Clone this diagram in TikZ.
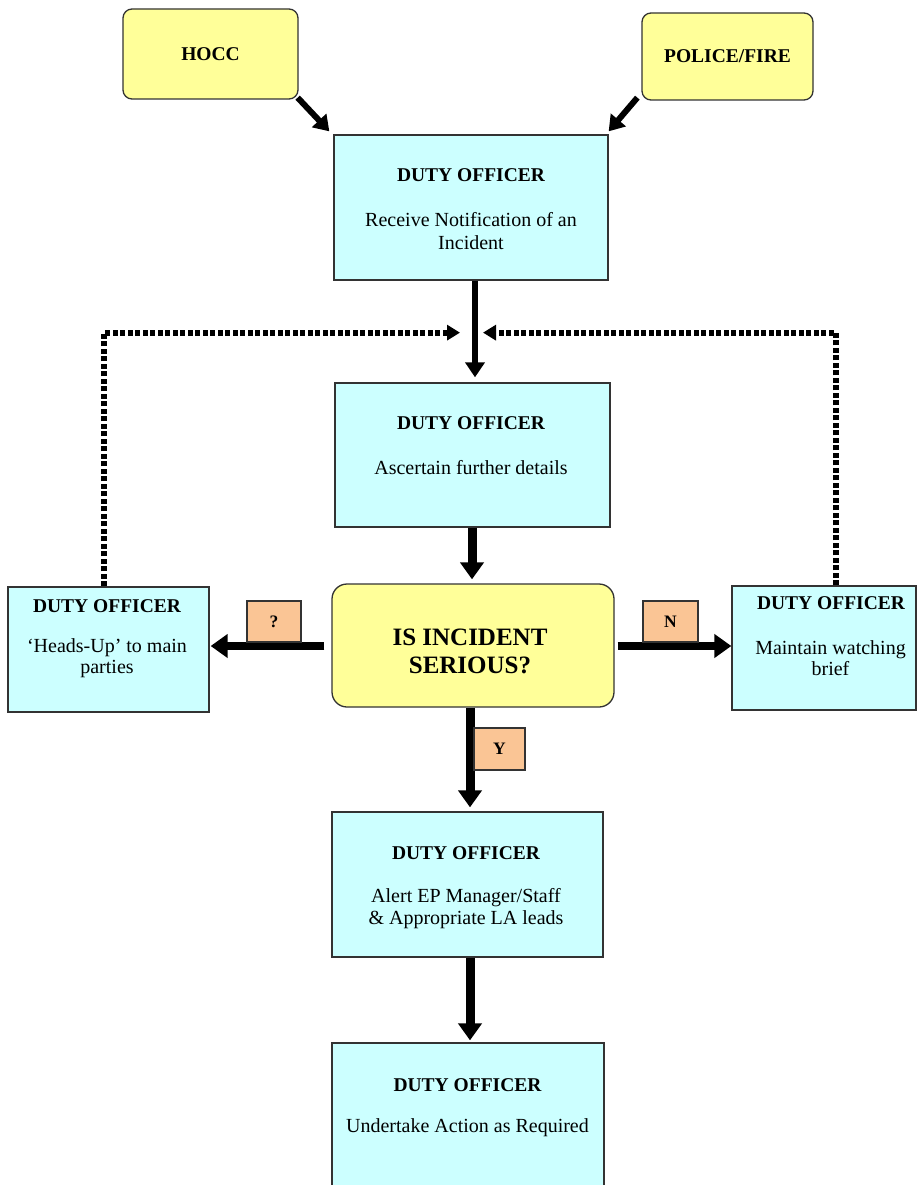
\documentclass[tikz,border=0pt]{standalone}
\usepackage{fontspec}
\setmainfont{Liberation Serif}
\usetikzlibrary{arrows.meta,calc}
\definecolor{boxcyan}{HTML}{CCFFFF}
\definecolor{boxyellow}{HTML}{FFFF99}
\definecolor{lblorange}{HTML}{FAC595}
\definecolor{edgegray}{HTML}{333333}
\begin{document}
\begin{tikzpicture}[x=1pt,y=-1pt,
  dobox/.style={draw=edgegray, line width=1.3pt, fill=boxcyan, inner sep=0pt},
  srcbox/.style={draw=edgegray, line width=1.3pt, fill=boxyellow, rounded corners=9pt, inner sep=0pt, font=\fontsize{19.5}{22}\selectfont\bfseries},
  decbox/.style={draw=edgegray, line width=1.3pt, fill=boxyellow, rounded corners=15pt, inner sep=0pt},
  ttl/.style={font=\fontsize{19.5}{22}\selectfont\bfseries, inner sep=0pt},
  bdy/.style={font=\fontsize{20}{23}\selectfont, align=center, inner sep=0pt},
  dectxt/.style={font=\fontsize{25}{28}\selectfont\bfseries, align=center, inner sep=0pt},
  lbl/.style={draw=edgegray, line width=1.2pt, fill=lblorange, inner sep=0pt, font=\fontsize{17.5}{20}\selectfont\bfseries},
  arrthin/.style={line width=6pt, -{Triangle[length=15pt,width=19pt]}},
  arrthick/.style={line width=9pt, -{Triangle[length=17pt,width=23pt]}},
  dotarr/.style={line width=6pt, dash pattern=on 5pt off 2.5pt, -{Triangle[length=13pt,width=15pt]}}
]
\clip (0,0) rectangle (918,1185);
\fill[white] (0,0) rectangle (918,1185);

% boxes
\node[srcbox, minimum width=175pt, minimum height=90pt] (hocc) at (210.5,54) {HOCC};
\node[srcbox, minimum width=171pt, minimum height=87pt] (police) at (727.5,56.5) {POLICE/FIRE};
\node[dobox, minimum width=274pt, minimum height=145pt] (do1) at (471,207.5) {};
\node[dobox, minimum width=275pt, minimum height=144pt] (do2) at (472.5,455) {};
\node[decbox, minimum width=282pt, minimum height=123pt] (dec) at (473,645.5) {};
\node[dobox, minimum width=201pt, minimum height=125pt] (left) at (108.5,649.5) {};
\node[dobox, minimum width=184pt, minimum height=124pt] (right) at (824,648) {};
\node[dobox, minimum width=271pt, minimum height=145pt] (do3) at (467.5,884.5) {};
\node[dobox, minimum width=272pt, minimum height=157pt] (do4) at (468,1121.5) {};

% texts
\node[ttl] (t1) at (471,175) {DUTY OFFICER};
\node[bdy] (b1) at (471,231.5) {Receive Notification of an\\Incident};
\node[ttl] (t2) at (471,423) {DUTY OFFICER};
\node[bdy] (b2) at (471,468) {Ascertain further details};
\node[dectxt] (dt) at (470,651) {IS INCIDENT\\SERIOUS?};
\node[ttl] (tl) at (107,606) {DUTY OFFICER};
\node[bdy, font=\fontsize{20}{20.5}\selectfont] (bl) at (107,658) {‘Heads-Up’ to main\\parties};
\node[ttl] (tr) at (831,603) {DUTY OFFICER};
\node[bdy, font=\fontsize{20}{20.5}\selectfont] (br) at (830.5,658) {Maintain watching\\brief};
\node[ttl] (t3) at (466,853) {DUTY OFFICER};
\node[bdy, font=\fontsize{20}{22}\selectfont] (b3) at (466,909) {Alert EP Manager/Staff\\\&~Appropriate LA leads};
\node[ttl] (t4) at (467.5,1085) {DUTY OFFICER};
\node[bdy] (b4) at (467.5,1128) {Undertake Action as Required};

% connectors
\draw[arrthin] ($(hocc.south east)+(-1,-2)$) -- ($(do1.north west)+(-4,-3)$);
\draw[arrthin] ($(police.south west)+(-4,-3)$) -- ($(do1.north east)+(0,-3)$);
\draw[arrthin] ($(do1.south)+(4,0)$) -- ($(do2.north)+(2.5,-5)$);
\coordinate (mL) at ($(do1.south)+(-11,52)$);
\coordinate (mR) at ($(do1.south)+(12,52)$);
\draw[dotarr] ([xshift=-4.5pt]left.north) |- (mL);
\draw[dotarr] ([xshift=12pt]right.north) |- (mR);
\draw[arrthick] ($(do2.south)+(-0.5,0)$) -- ($(dec.north)+(-1,-4)$);
\draw[arrthick, line width=8pt] ($(dec.west)+(-7,0.5)$) -- ($(dec.west -| left.east)+(1,0.5)$);
\draw[arrthick, line width=8pt] ($(dec.east)+(3,0.5)$) -- ($(dec.east -| right.west)+(0,0.5)$);
\draw[arrthick] ($(dec.south)+(-3,0)$) -- ($(do3.north)+(2.5,-4)$);
\draw[arrthick] ($(do3.south)+(2.5,0)$) -- ($(do4.north)+(2,-2)$);

% labels
\node[lbl, minimum width=54pt, minimum height=41pt] (lq) at (274,621.5) {?};
\node[lbl, minimum width=55pt, minimum height=41pt] (ln) at (670.5,621.5) {N};
\node[lbl, minimum width=51pt, minimum height=42pt] (ly) at (499.5,749) {Y};
\end{tikzpicture}
\end{document}
